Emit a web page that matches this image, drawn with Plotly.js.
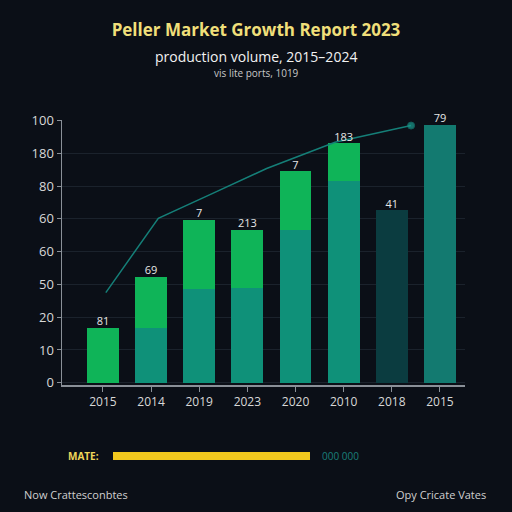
<!DOCTYPE html>
<html>
<head>
<meta charset="utf-8">
<script src="https://cdn.plot.ly/plotly-3.0.1.min.js"></script>
<style>html,body{margin:0;padding:0;background:#0b0f17;}#chart{width:512px;height:512px;}</style>
</head>
<body>
<div id="chart"></div>
<script>
// Category tick labels (as shown in the picture, duplicates included)
const categories = ["2015", "2014", "2019", "2023", "2020", "2010", "2018", "2015"];
// Y tick labels as printed (equally spaced rows)
const yTickLabels = ["0", "10", "20", "50", "60", "60", "80", "180", "100"];
// Lower (teal) segment of each bar, in axis rows
const baseValues = [0, 1.67, 2.85, 2.90, 4.67, 6.15, 5.26, 7.87];
// Upper (green) segment of each bar
const topValues = [1.67, 1.56, 2.13, 1.77, 1.78, 1.16, 0, 0];
// Labels printed above bars
const barLabels = ["81", "69", "7", "213", "7", "183", "41", "79"];
// Trend line points
const lineX = [0.06, 1.15, 2.28, 3.40, 4.82, 6.40];
const lineY = [2.75, 5.02, 5.78, 6.54, 7.34, 7.85];

const idx = categories.map((_, i) => i);
const totals = baseValues.map((v, i) => v + topValues[i]);
const yTickVals = yTickLabels.map((_, i) => i);

const TEAL = "#0f9179", DARK = "#0b3c40", TEAL2 = "#137a70", GREEN = "#0fb458";
const baseColors = [TEAL, TEAL, TEAL, TEAL, TEAL, TEAL, DARK, TEAL2];
const FONT = "Open Sans";

const traces = [
  {type: "bar", x: idx, y: baseValues, marker: {color: baseColors, line: {width: 0}}, width: 0.66, hoverinfo: "none"},
  {type: "bar", x: idx, y: topValues, marker: {color: GREEN, line: {width: 0}}, width: 0.66, hoverinfo: "none"},
  {type: "scatter", mode: "lines+markers", x: lineX, y: lineY,
   line: {color: "#157f78", width: 1.5},
   marker: {color: "#1a9a8c", size: [0, 0, 0, 0, 0, 7]}, hoverinfo: "none"},
  {type: "scatter", mode: "text", x: idx, y: totals, text: barLabels, textposition: "top center", cliponaxis: false,
   textfont: {family: FONT, size: 11, color: "#e6e6e6"}, hoverinfo: "none"}
];

const W0 = 62, W1 = 465, H0 = 120, H1 = 385;
const px = X => (X - W0) / (W1 - W0);
const py = Y => (H1 - Y) / (H1 - H0);

const layout = {
  width: 512, height: 512,
  paper_bgcolor: "#0b0f17", plot_bgcolor: "#0b0f17",
  margin: {l: W0, r: 512 - W1, t: H0, b: 512 - H1},
  showlegend: false,
  barmode: "stack",
  title: {text: "<b>Peller Market Growth Report 2023</b>", x: 0.5, xanchor: "center", y: 1 - 30 / 512, yanchor: "middle",
          font: {family: FONT, size: 17, color: "#f0df7a"}},
  xaxis: {
    range: [-0.85, 7.52], tickvals: idx, ticktext: categories,
    showgrid: false, zeroline: false, showline: true, linecolor: "#8a9098", linewidth: 1.5,
    ticks: "outside", ticklen: 5, tickcolor: "#8a9098",
    tickfont: {family: FONT, size: 12, color: "#d8d8d8"}
  },
  yaxis: {
    range: [-0.07, 8.02], tickvals: yTickVals, ticktext: yTickLabels,
    showgrid: true, gridcolor: "#1b222c", gridwidth: 1, zeroline: false,
    showline: true, linecolor: "#8a9098", linewidth: 1.5,
    ticks: "outside", ticklen: 4, tickcolor: "#8a9098",
    tickfont: {family: FONT, size: 13, color: "#d8d8d8"}
  },
  shapes: [
    {type: "rect", xref: "paper", yref: "paper", x0: px(113), x1: px(310), y0: py(460), y1: py(452),
     fillcolor: "#f2c81e", line: {width: 0}}
  ],
  annotations: [
    {xref: "paper", yref: "paper", x: px(256), y: py(56), text: "production volume, 2015–2024", showarrow: false,
     font: {family: FONT, size: 14, color: "#f2f2f2"}, xanchor: "center", yanchor: "middle"},
    {xref: "paper", yref: "paper", x: px(256), y: py(73), text: "vis lite ports, 1019", showarrow: false,
     font: {family: FONT, size: 10, color: "#c8c8c8"}, xanchor: "center", yanchor: "middle"},
    {xref: "paper", yref: "paper", x: px(101), y: py(456), text: "<b>MATE:</b>", showarrow: false,
     font: {family: FONT, size: 10, color: "#f0d65a"}, xanchor: "right", yanchor: "middle"},
    {xref: "paper", yref: "paper", x: px(320), y: py(456), text: "000 000", showarrow: false,
     font: {family: FONT, size: 10, color: "#1a7f7a"}, xanchor: "left", yanchor: "middle"},
    {xref: "paper", yref: "paper", x: px(22), y: py(494), text: "Now Crattesconbtes", showarrow: false,
     font: {family: FONT, size: 11, color: "#d0d0d0"}, xanchor: "left", yanchor: "middle"},
    {xref: "paper", yref: "paper", x: px(488), y: py(494), text: "Opy Cricate Vates", showarrow: false,
     font: {family: FONT, size: 11, color: "#d0d0d0"}, xanchor: "right", yanchor: "middle"}
  ]
};

Plotly.newPlot("chart", traces, layout, {displayModeBar: false, staticPlot: true});
</script>
</body>
</html>
